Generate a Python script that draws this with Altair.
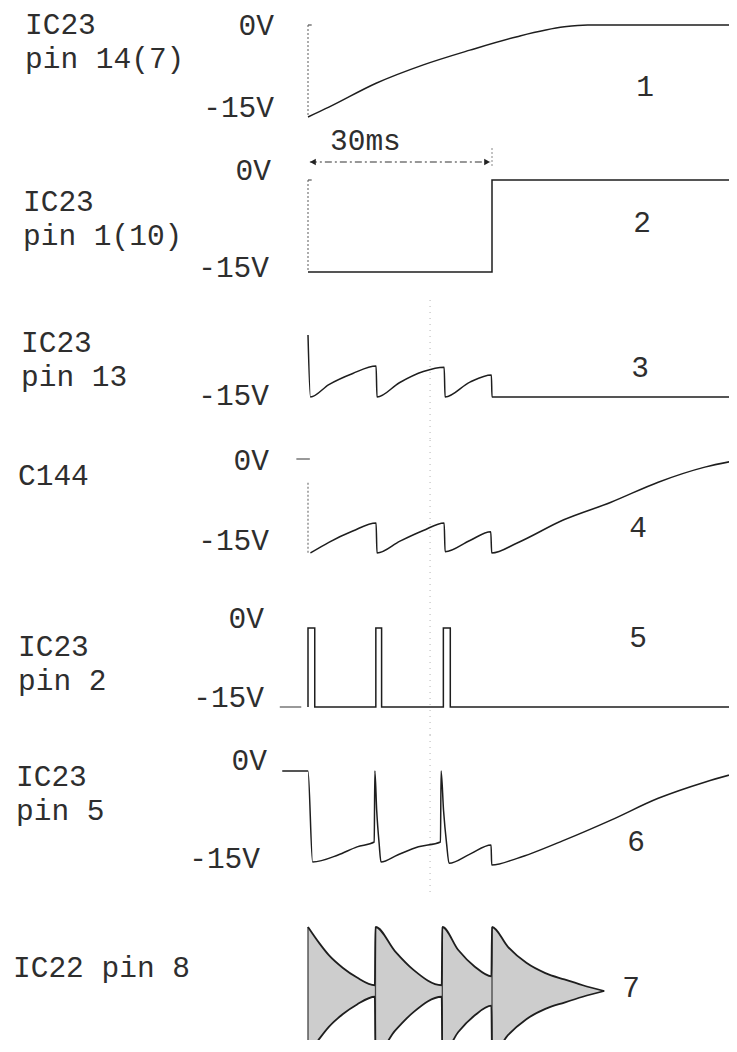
import altair as alt
import pandas as pd

# ---------------- data: time in ms, level in V ----------------
# 1: IC23 pin 14(7)
t1 = [0, 3.4, 11.1, 18.8, 26.4, 34.1, 41.8, 45.6, 70]
v1 = [-15, -13.4, -9.5, -6.5, -4.1, -1.9, -0.3, 0, 0]
# 2: IC23 pin 1(10)
t2 = [0, 30, 30, 70]
v2 = [-15, -15, 0, 0]
# 3: IC23 pin 13
t3 = [0, 0.4, 3.4, 7.3, 11.1, 11.25, 14.9, 18.8, 22.2, 22.35, 26.4, 29.9, 30.0, 70]
v3 = [-5, -15, -13.0, -11.2, -10.0, -15, -12.7, -10.9, -10.2, -15, -12.6, -11.45, -15, -15]
# 4: C144
t4 = [0.4, 3.4, 7.3, 11.1, 11.25, 15.0, 18.8, 22.2, 22.35, 26.4, 29.8, 29.95,
      34.1, 41.7, 49.4, 57.1, 64.7, 70]
v4 = [-15, -13.3, -11.5, -10.2, -15, -13.1, -11.4, -10.2, -14.8, -13.0, -11.6, -15,
      -13.4, -9.7, -6.9, -3.7, -1.3, -0.2]
# 5: IC23 pin 2
t5 = [0, 0, 1.1, 1.1, 11.06, 11.06, 12.0, 12.0, 22.07, 22.07, 23.2, 23.2, 70]
v5 = [-15, 0, 0, -15, -15, 0, 0, -15, -15, 0, 0, -15, -15]
# 6: IC23 pin 5
t6 = [-4.2, 0, 0.75, 4.9, 8.0, 10.8, 10.9, 11.2, 11.6, 11.9, 14.6, 18.0, 21.6, 21.7,
      22.1, 22.6, 23.0, 26.4, 29.85, 29.95, 34.1, 41.8, 49.4, 57.1, 64.8, 70]
v6 = [0, 0, -15, -13.85, -12.5, -11.7, 0, -6.5, -12.0, -15, -13.85, -12.5, -11.7, 0,
      -6.5, -12.0, -15.2, -13.7, -12.2, -15.5, -14.4, -11.4, -8.1, -4.5, -1.8, -0.3]
# 7: IC22 pin 8 burst envelope (relative amplitude)
t7 = [0, 1.9, 3.4, 5.7, 8.0, 10.9,
      11.0, 14.2, 17.2, 21.8,
      21.9, 24.5, 27.2, 29.9,
      30.0, 32.6, 35.6, 38.7, 41.8, 44.8, 48.3]
a7 = [1.0, 0.74, 0.56, 0.36, 0.21, 0.09,
      1.0, 0.62, 0.33, 0.09,
      1.0, 0.64, 0.38, 0.23,
      1.0, 0.69, 0.44, 0.28, 0.18, 0.09, 0.0]
burst_starts = [0, 11.0, 21.9, 30.0]

# start markers (dotted) and short ticks
dot_t = [[0, 0], [0, 0], None, [0, 0], None, None, None]
dot_v = [[0, -15], [0, -15], None, [-3.8, -15], None, None, None]
tick_t = [[0, 0.6], [0, 0.6], None, [-1.9, 0.3], [-4.6, -1.1], None, None]
tick_v = [[0, 0], [0, 0], None, [0, 0], [-15, -15], None, None]

arrow_t = [0.3, 29.7]
arrow_label = "30ms"
guide_t = [19.9]

names = [["IC23", "pin 14(7)"], ["IC23", "pin 1(10)"], ["IC23", "pin 13"], ["C144"],
         ["IC23", "pin 2"], ["IC23", "pin 5"], ["IC22 pin 8"]]
levels = [["0V", "-15V"], ["0V", "-15V"], ["-15V"], ["0V", "-15V"],
          ["0V", "-15V"], ["0V", "-15V"], []]
numbers = ["1", "2", "3", "4", "5", "6", "7"]

# ---------------- layout (page pixels) ----------------
FONT = "Liberation Mono"
FS = 29.5
INK = "#1e1e1e"
TXT = "#2e2e2e"
W = 721
T0_PX = 300
PX_PER_MS = 184 / 30

panel_top = [8, 128, 300, 440, 590, 735, 895]
panel_h = [120, 172, 140, 150, 145, 160, 145]
zero_px = [25, 180, 304, 459, 628, 771, 991]
px_per_v = [92 / 15, 92 / 15, 6.2, 94 / 15, 79 / 15, 91 / 15, 64]

name_pos = [[(25, 34), (25, 68)], [(23, 211), (23, 245)], [(21, 352), (21, 386)],
            [(18, 485)], [(18, 656), (18, 690)], [(16, 786), (16, 820)], [(13, 977)]]
level_pos = [[(274, 35), (274, 117)], [(271, 180), (269, 277)], [(269, 405)],
             [(269, 470), (269, 550)], [(264, 628), (264, 707)],
             [(267, 770), (260, 868)], []]
number_pos = [(645, 96), (642, 232), (640, 377), (638, 537), (638, 647), (636, 851), (631, 997)]

xs = alt.Scale(domain=[-T0_PX / PX_PER_MS, (W - T0_PX) / PX_PER_MS], nice=False, zero=False)


def yscale(p):
    vmax = (zero_px[p] - panel_top[p]) / px_per_v[p]
    vmin = vmax - panel_h[p] / px_per_v[p]
    return alt.Scale(domain=[vmin, vmax], nice=False, zero=False)


def line(ts, vs, ys, interp="linear", dash=None, color=INK, width=1.5):
    df = pd.DataFrame({"t": ts, "v": vs, "i": list(range(len(ts)))})
    kw = dict(interpolate=interp, color=color, strokeWidth=width, clip=True)
    if dash:
        kw["strokeDash"] = dash
    return alt.Chart(df).mark_line(**kw).encode(
        x=alt.X("t:Q", scale=xs, axis=None),
        y=alt.Y("v:Q", scale=ys, axis=None),
        order=alt.Order("i:Q"),
    )


def text(s, x, y, top, align="left", size=FS):
    return alt.Chart(pd.DataFrame({"s": [s]})).mark_text(
        align=align, baseline="alphabetic", font=FONT, fontSize=size, color=TXT
    ).encode(x=alt.value(x - 8), y=alt.value(y - top), text="s:N")


waves = [(t1, v1, "monotone"), (t2, v2, "linear"), (t3, v3, "monotone"),
         (t4, v4, "monotone"), (t5, v5, "linear"), (t6, v6, "monotone")]

panels = []
for p in range(7):
    ys = yscale(p)
    top = panel_top[p]
    layers = []
    if p in (2, 3, 4, 5):
        layers.append(alt.Chart(pd.DataFrame({"t": guide_t})).mark_rule(
            color="#b5b5b5", strokeDash=[1, 5], strokeWidth=1).encode(
            x=alt.X("t:Q", scale=xs, axis=None), y=alt.value(0), y2=alt.value(panel_h[p])))
    if dot_t[p]:
        layers.append(line(dot_t[p], dot_v[p], ys, dash=[2, 2], color="#777777", width=1.2))
    if tick_t[p]:
        layers.append(line(tick_t[p], tick_v[p], ys, color="#555555", width=1.2))
    if p < 6:
        ts, vs, ip = waves[p]
        layers.append(line(ts, vs, ys, interp=ip))
    else:
        df7 = pd.DataFrame({"t": t7, "a": a7, "na": [-a for a in a7]})
        layers.append(alt.Chart(df7).mark_area(interpolate="monotone", color="#cdcdcd", clip=True).encode(
            x=alt.X("t:Q", scale=xs, axis=None), y=alt.Y("a:Q", scale=ys, axis=None), y2="na:Q"))
        dfr = pd.DataFrame({"t": burst_starts, "a": [1.0] * len(burst_starts),
                            "na": [-1.0] * len(burst_starts)})
        layers.append(alt.Chart(dfr).mark_rule(color="#444444", strokeWidth=1.3, clip=True).encode(
            x=alt.X("t:Q", scale=xs, axis=None), y=alt.Y("a:Q", scale=ys, axis=None), y2="na:Q"))
        for col in ("a", "na"):
            layers.append(alt.Chart(df7).mark_line(interpolate="monotone", color=INK,
                                                   strokeWidth=1.8, clip=True).encode(
                x=alt.X("t:Q", scale=xs, axis=None), y=alt.Y(f"{col}:Q", scale=ys, axis=None)))
    if p == 1:
        dfa = pd.DataFrame({"t": arrow_t})
        layers.append(alt.Chart(dfa).mark_line(color="#333333", strokeWidth=1.2,
                                               strokeDash=[7, 3, 2, 3]).encode(
            x=alt.X("t:Q", scale=xs, axis=None), y=alt.value(34)))
        layers.append(alt.Chart(pd.DataFrame({"t": [arrow_t[0] + 0.5]})).mark_point(
            shape="triangle-left", filled=True, size=45, color="#222222", opacity=1).encode(
            x=alt.X("t:Q", scale=xs, axis=None), y=alt.value(34)))
        layers.append(alt.Chart(pd.DataFrame({"t": [arrow_t[1] - 0.5]})).mark_point(
            shape="triangle-right", filled=True, size=45, color="#222222", opacity=1).encode(
            x=alt.X("t:Q", scale=xs, axis=None), y=alt.value(34)))
        layers.append(alt.Chart(pd.DataFrame({"t": [30]})).mark_rule(
            color="#888888", strokeDash=[2, 2], strokeWidth=1).encode(
            x=alt.X("t:Q", scale=xs, axis=None), y=alt.value(20), y2=alt.value(38)))
        layers.append(text(arrow_label, 330, 150, top))
    for s, (x, y) in zip(names[p], name_pos[p]):
        layers.append(text(s, x, y, top))
    for s, (x, y) in zip(levels[p], level_pos[p]):
        layers.append(text(s, x, y, top, align="right"))
    layers.append(text(numbers[p], number_pos[p][0], number_pos[p][1], top, align="center"))
    panels.append(alt.layer(*layers).properties(width=W, height=panel_h[p]))

chart = alt.vconcat(*panels, spacing=0, bounds="flush").configure_view(stroke=None).properties(
    padding=0, background="white")

chart.save("out.html", embed_options={"renderer": "svg", "actions": False})
